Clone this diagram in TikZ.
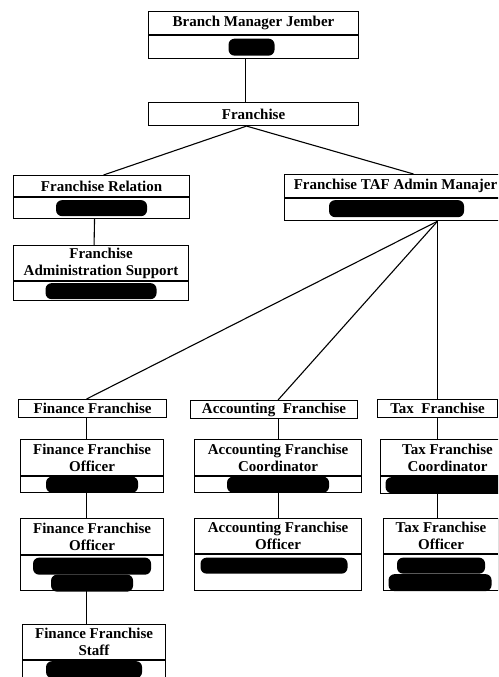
\documentclass[tikz,border=0pt]{standalone}
\usepackage{fontspec}
\setmainfont{Liberation Serif}
\usetikzlibrary{positioning}

\tikzset{
  unit/.style={draw, line width=1.1pt, inner sep=1pt, anchor=north west, align=center,
    font=\fontsize{15pt}{17pt}\selectfont\bfseries},
  body/.style={draw, line width=1.1pt, inner sep=0pt, below=0pt of #1},
  redact/.style={fill=black, rounded corners=6pt, inner sep=0pt, minimum height=16pt},
  link/.style={line width=1.1pt},
}

\begin{document}
\begin{tikzpicture}[x=1pt, y=-1pt]
  \useasboundingbox (0,0) rectangle (498,677);
  \clip (0,0) rectangle (498,677);

  % top of the chart
  \node[unit, minimum width=210pt, minimum height=23pt] (bm) at (148,11) {Branch Manager Jember};
  \node[body=bm, minimum width=210pt, minimum height=23pt] (bm-b) {};
  \node[unit, minimum width=210pt, minimum height=23pt] (fr) at (148,102) {Franchise};

  % second level
  \node[unit, minimum width=176pt, minimum height=21pt] (rel) at (13,175) {Franchise Relation};
  \node[body=rel, minimum width=176pt, minimum height=21pt] (rel-b) {};
  \node[unit, minimum width=175pt, minimum height=35pt] (sup) at (13,245) {Franchise\\Administration Support};
  \node[body=sup, minimum width=175pt, minimum height=19pt] (sup-b) {};
  \node[unit, minimum width=222pt, minimum height=23pt] (taf) at (284,174) {Franchise TAF Admin Manajer};
  \node[body=taf, minimum width=222pt, minimum height=22pt] (taf-b) {};

  % departments
  \node[unit, minimum width=148pt, minimum height=18pt] (ff) at (18,399) {Finance Franchise};
  \node[unit, minimum width=167pt, minimum height=18pt] (acc) at (190,400) {Accounting\ \ Franchise};
  \node[unit, minimum width=120pt, minimum height=18pt] (tax) at (377,399) {Tax\ \ Franchise};

  % finance column
  \node[unit, minimum width=143pt, minimum height=36pt] (ffo1) at (20,439) {Finance Franchise\\Officer};
  \node[body=ffo1, minimum width=143pt, minimum height=16pt] (ffo1-b) {};
  \node[unit, minimum width=143pt, minimum height=36pt] (ffo2) at (20,518) {Finance Franchise\\Officer};
  \node[body=ffo2, minimum width=143pt, minimum height=35pt] (ffo2-b) {};
  \node[unit, minimum width=143pt, minimum height=35pt] (ffs) at (22,624) {Finance Franchise\\Staff};
  \node[body=ffs, minimum width=143pt, minimum height=30pt] (ffs-b) {};

  % accounting column
  \node[unit, minimum width=167pt, minimum height=36pt] (acco) at (194,439) {Accounting Franchise\\Coordinator};
  \node[body=acco, minimum width=167pt, minimum height=16pt] (acco-b) {};
  \node[unit, minimum width=167pt, minimum height=35pt] (acof) at (194,518) {Accounting Franchise\\Officer};
  \node[body=acof, minimum width=167pt, minimum height=36pt] (acof-b) {};

  % tax column
  \node[unit, minimum width=134pt, minimum height=36pt] (taxc) at (380,439) {Tax Franchise\\Coordinator};
  \node[body=taxc, minimum width=134pt, minimum height=17pt] (taxc-b) {};
  \node[unit, minimum width=115pt, minimum height=35pt] (taxo) at (383,518) {Tax Franchise\\Officer};
  \node[body=taxo, minimum width=115pt, minimum height=36pt] (taxo-b) {};

  % blacked-out names
  \node[redact, minimum width=46pt, minimum height=17pt, xshift=-2pt] at (bm-b) {};
  \node[redact, minimum width=91pt] at (rel-b) {};
  \node[redact, minimum width=111pt] at (sup-b) {};
  \node[redact, minimum width=135pt, minimum height=17pt, xshift=1pt, yshift=1pt] at (taf-b) {};
  \node[redact, minimum width=92pt] at (ffo1-b) {};
  \node[redact, minimum width=118pt, minimum height=17pt, yshift=7pt] at (ffo2-b) {};
  \node[redact, minimum width=82pt, minimum height=17pt, yshift=-10pt] at (ffo2-b) {};
  \node[redact, minimum width=96pt, minimum height=17pt, yshift=6pt] at (ffs-b) {};
  \node[redact, minimum width=102pt] at (acco-b) {};
  \node[redact, minimum width=147pt, xshift=-4pt, yshift=7pt] at (acof-b) {};
  \node[redact, minimum width=124pt] at (taxc-b) {};
  \node[redact, minimum width=88pt, yshift=7pt] at (taxo-b) {};
  \node[redact, minimum width=103pt, minimum height=17pt, xshift=-1pt, yshift=-10pt] at (taxo-b) {};

  % connectors
  \coordinate (fan) at ([xshift=42pt]taf-b.south);
  \coordinate (fline) at ([xshift=-6pt]ff.south);
  \draw[link] ([xshift=-8pt]bm-b.south) -- ([xshift=-8pt]fr.north);
  \draw[link] ([xshift=-7pt]fr.south) -- ([xshift=2pt]rel.north);
  \draw[link] ([xshift=-7pt]fr.south) -- ([xshift=18pt]taf.north);
  \draw[link] ([xshift=-7pt]rel-b.south) -- ([xshift=-7pt]sup.north);
  \draw[link] (fan) -- ([xshift=-6pt]ff.north);
  \draw[link] (fan) -- (acc.north -| acco.north);
  \draw[link] (fan) -- (tax.north);
  \draw[link] (fline) -- (fline |- ffo1.north);
  \draw[link] (fline |- ffo1-b.south) -- (fline |- ffo2.north);
  \draw[link] (fline |- ffo2-b.south) -- (fline |- ffs.north);
  \draw[link] (acc.south -| acco.north) -- (acco.north);
  \draw[link] (acco-b.south) -- (acof.north);
  \draw[link] (tax.south) -- (tax.south |- taxc.north);
  \draw[link] (tax.south |- taxc-b.south) -- (tax.south |- taxo.north);
\end{tikzpicture}
\end{document}
